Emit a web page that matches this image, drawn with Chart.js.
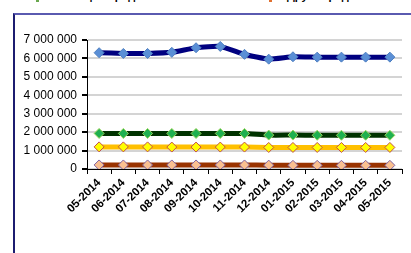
<!DOCTYPE html>
<html>
<head>
<meta charset="utf-8">
<script src="https://cdn.jsdelivr.net/npm/chart.js@4.4.0/dist/chart.umd.min.js"></script>
<style>
    html, body { margin: 0; padding: 0; background: #fff; overflow: hidden; }
    #wrap { position: relative; width: 411px; height: 253px; }
    #chartCanvas { position: absolute; left: 0; top: 0; }
    .frame { position: absolute; left: 13px; top: 13px; width: 410px; height: 250px;
             border-left: 2px solid #1c1c70; border-top: 2px solid #5a5ab0; }
    .leg { position: absolute; top: -10px; font: bold 11px "Liberation Sans", Arial, sans-serif; color: #000; white-space: nowrap; }
    .legMark { position: absolute; top: 0; width: 3px; height: 2px; }
</style>
</head>
<body>
<div id="wrap">
    <div class="frame"></div>
    <div class="leg" style="left:52px">Жилищни продажби</div>
    <div class="legMark" style="left:36px; background:#6aa84f"></div>
    <div class="leg" style="left:287px">Други продажби</div>
    <div class="legMark" style="left:269px; background:#e07030"></div>
    <canvas id="chartCanvas" width="411" height="253"></canvas>
</div>
<script>
// Months on the x axis
const months = ['05-2014', '06-2014', '07-2014', '08-2014', '09-2014', '10-2014', '11-2014',
                '12-2014', '01-2015', '02-2015', '03-2015', '04-2015', '05-2015'];

// Series values
const blueValues = [6310000, 6270000, 6270000, 6330000, 6580000, 6650000, 6220000,
                    5960000, 6090000, 6070000, 6070000, 6070000, 6070000];
const greenValues = [1930000, 1930000, 1930000, 1930000, 1930000, 1930000, 1930000,
                     1840000, 1840000, 1830000, 1830000, 1830000, 1830000];
const yellowValues = [1200000, 1200000, 1200000, 1190000, 1190000, 1190000, 1190000,
                      1170000, 1170000, 1170000, 1170000, 1170000, 1170000];
const brownValues = [220000, 220000, 220000, 220000, 220000, 220000, 220000,
                     210000, 200000, 200000, 200000, 200000, 200000];

// Y axis ticks
const yTicks = [0, 1000000, 2000000, 3000000, 4000000, 5000000, 6000000, 7000000];

// Format number with spaces as thousands separator
function formatSpaced(value) {
    return String(Math.round(value)).replace(/\B(?=(\d{3})+(?!\d))/g, ' ');
}

function makeSeries(label, data, lineColor, fillColor, edgeColor) {
    return {
        label: label,
        data: data,
        borderColor: lineColor,
        borderWidth: 5,
        pointStyle: 'rectRot',
        pointRadius: 5,
        pointBackgroundColor: fillColor,
        pointBorderColor: edgeColor,
        pointBorderWidth: 1,
        tension: 0.15,
        fill: false
    };
}

const ctx = document.getElementById('chartCanvas').getContext('2d');

new Chart(ctx, {
    type: 'line',
    data: {
        labels: months,
        datasets: [
            makeSeries('Общо', blueValues, '#000080', '#5a8fd6', '#4f7fc0'),
            makeSeries('Жилищни', greenValues, '#003300', '#1fb050', '#9bd65c'),
            makeSeries('Други', yellowValues, '#ffc000', '#ffff00', '#c0504d'),
            makeSeries('Офиси', brownValues, '#993300', '#fac090', '#8064a2')
        ]
    },
    options: {
        responsive: false,
        animation: false,
        layout: { padding: { left: 0, right: 9, top: 40, bottom: 0 } },
        plugins: {
            legend: { display: false },
            tooltip: { enabled: false }
        },
        scales: {
            x: {
                offset: true,
                grid: {
                    offset: true,
                    drawOnChartArea: false,
                    drawTicks: true,
                    tickLength: 5,
                    tickColor: '#000'
                },
                border: { color: '#000', width: 1 },
                ticks: {
                    minRotation: 45,
                    maxRotation: 45,
                    autoSkip: false,
                    color: '#000',
                    padding: 2,
                    font: { family: '"Liberation Sans", Arial, sans-serif', size: 11.5, weight: 'bold' }
                },
                afterFit: function(scale) { scale.height = 84; }
            },
            y: {
                min: 0,
                max: 7000000,
                afterBuildTicks: function(scale) {
                    scale.ticks = yTicks.map(v => ({ value: v }));
                },
                grid: {
                    color: '#d4d4d4',
                    lineWidth: 2,
                    drawTicks: true,
                    tickLength: 5,
                    tickColor: '#000'
                },
                border: { color: '#000', width: 1 },
                ticks: {
                    color: '#000',
                    padding: 5,
                    font: { family: '"Liberation Sans", Arial, sans-serif', size: 12 },
                    callback: function(value) { return formatSpaced(value); }
                },
                afterFit: function(scale) { scale.width = 87; }
            }
        }
    }
});
</script>
</body>
</html>
